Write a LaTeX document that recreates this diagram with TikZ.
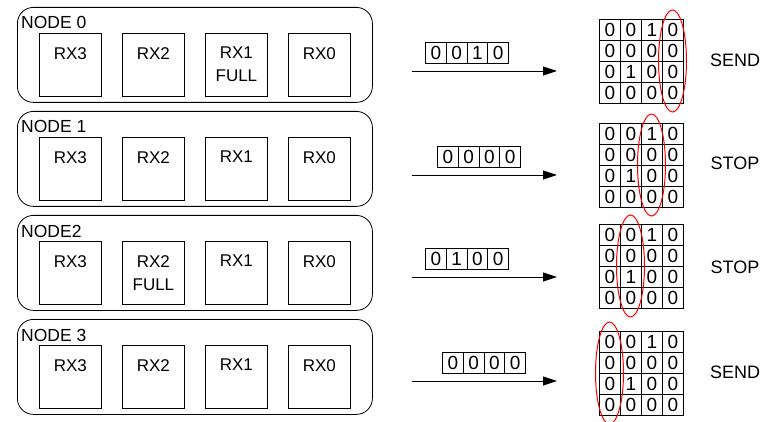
\documentclass[tikz,border=0pt]{standalone}
\usepackage{fontspec}
\setmainfont{Liberation Sans}
\usetikzlibrary{arrows.meta,shapes.geometric}
\begin{document}
\begin{tikzpicture}[x=1pt,y=-1pt,
  outer/.style={draw, rounded corners=16pt, line width=0.8pt, minimum width=355pt, minimum height=95pt, anchor=north west, inner sep=0pt},
  rxbox/.style={draw, line width=0.8pt, minimum width=62pt, minimum height=63pt, anchor=north west, inner sep=0pt},
  rxtext/.style={anchor=north, align=center, inner sep=0pt, font=\fontsize{17}{23}\selectfont},
  nodelab/.style={anchor=base west, inner sep=0pt, font=\fontsize{17.5}{19}\selectfont},
  cell/.style={draw, line width=0.8pt, minimum width=20.8pt, minimum height=21pt, anchor=north west, inner sep=0pt, font=\fontsize{19}{20}\selectfont},
  arr/.style={line width=0.8pt, -{Triangle[length=14pt,width=9pt]}},
  oval/.style={draw=red, line width=1pt, ellipse, minimum width=28pt, minimum height=102pt, inner sep=0pt},
  msg/.style={inner sep=0pt, font=\fontsize{18}{20}\selectfont}
]
\useasboundingbox (0,0) rectangle (771,422);
\foreach \r/\lab/\bx/\by/\bits/\col/\msgtext/\full/\ay/\my/\sy in {
 0/NODE 0/425/42/{0,0,1,0}/3/SEND/2/71/19/60,
 1/NODE 1/437/146/{0,0,0,0}/2/STOP/-1/175/123/163,
 2/NODE2/425/248/{0,1,0,0}/1/STOP/1/277/224/267,
 3/NODE 3/442/352/{0,0,0,0}/0/SEND/-1/381/331/372}{
  \pgfmathsetmacro\ty{7+104*\r}
  \node[outer] (node\r) at (17,\ty) {};
  \node[nodelab] (lab\r) at (21,\ty+22) {\lab};
  \foreach \i/\name in {0/RX3,1/RX2,2/RX1,3/RX0}{
    \pgfmathsetmacro\bxx{39+83*\i}
    \node[rxbox] (rx\r\i) at (\bxx,\ty+26) {};
    \ifnum\i=\full \def\rxt{\name\\FULL}\else\def\rxt{\name}\fi
    \node[rxtext] (rxt\r\i) at ([yshift=-14pt]rx\r\i.north) {\rxt};
  }
  \foreach \b [count=\k from 0] in \bits{
    \node[cell] (bit\r\k) at (\bx+\k*20.8,\by) {\b};
  }
  \coordinate (as\r) at (412,\ay);
  \coordinate (ae\r) at (557,\ay);
  \draw[arr] (as\r) -- (ae\r);
  \foreach \rr/\vals in {0/{0,0,1,0},1/{0,0,0,0},2/{0,1,0,0},3/{0,0,0,0}}{
    \foreach \v [count=\c from 0] in \vals{
      \node[cell] (m\r\rr\c) at (599+\c*21,\my+\rr*21) {\v};
    }
  }
  \node[oval] (ov\r) at (599+\col*21+10.5,\my+42) {};
  \node[msg] (msg\r) at (735,\sy) {\msgtext};
}
\end{tikzpicture}
\end{document}
